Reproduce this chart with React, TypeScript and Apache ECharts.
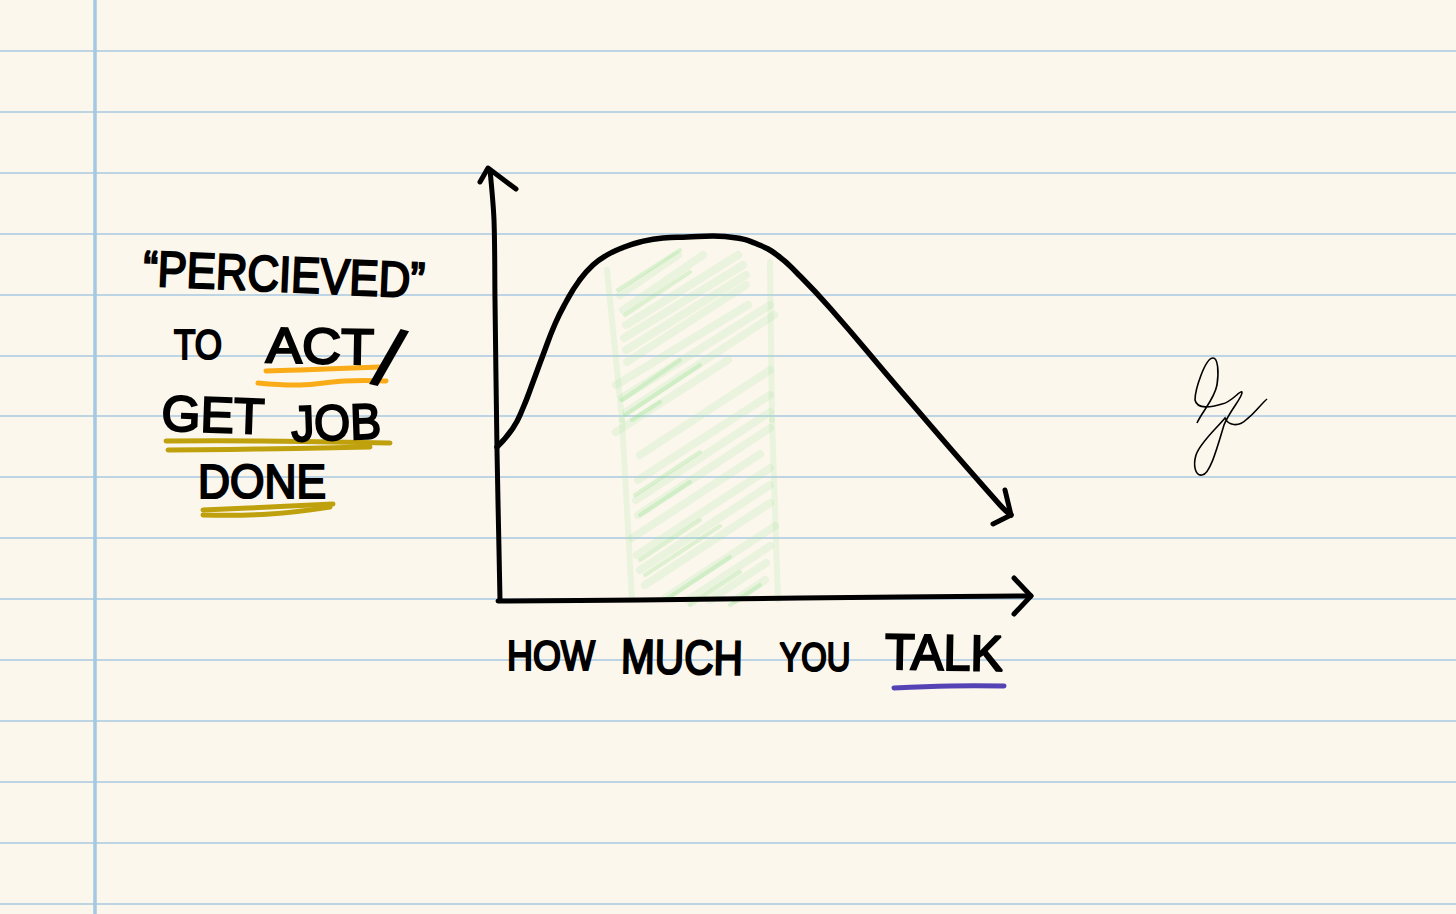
import React, { useEffect, useRef } from "react";
import * as echarts from "echarts";

// Units of both axes: one unit per pixel of the drawing, measured from the origin of the sketch.
const curve = [
  [-1, 153], [15, 172], [25, 192], [35, 218], [45, 245], [57, 276], [68, 298], [81, 319], [95, 335], [109, 345],
  [124, 352], [142, 358], [165, 362], [189, 363], [215, 364], [239, 362], [259, 356], [279, 345],
  [299, 327], [332, 292], [402, 210], [502, 95], [513, 85],
];
const curveArrowHead = [[507, 110], [513, 85], [495, 76]];
const yAxisStroke = [[2, 0], [1, 50], [-1, 150], [-3, 300], [-4, 380], [-8, 430]];
const yAxisHead = [[-18, 418], [-10, 432], [18, 411]];
const xAxisStroke = [[0, -1], [142, 0], [302, 2], [533, 4]];
const xAxisHead = [[516, 22], [533, 4], [516, -14]];

const hatchLight = [
  [122, 305, 180, 345], [125, 290, 205, 345], [128, 275, 240, 345], [126, 262, 245, 335],
  [128, 250, 248, 325], [129, 238, 248, 315], [118, 215, 250, 295], [124, 202, 272, 295],
  [128, 188, 276, 285], [118, 168, 230, 240], [142, 145, 272, 230], [140, 120, 272, 205],
  [138, 100, 272, 188], [140, 85, 272, 172], [134, 62, 262, 146], [139, 45, 272, 132],
  [142, 30, 272, 115], [147, 15, 272, 97], [167, 2, 277, 74], [190, 0, 272, 54],
  [212, 0, 268, 37], [237, 0, 267, 20],
];
const hatchDense = [
  [124, 200, 182, 240], [127, 185, 202, 235], [134, 180, 162, 198], [137, 105, 202, 148],
  [142, 85, 192, 118], [142, 40, 202, 80], [147, 25, 222, 74], [167, 0, 232, 43],
  [192, -5, 242, 28], [232, -5, 262, 15], [120, 310, 182, 350], [127, 285, 192, 328],
];
const bandEdges = [
  [109, 330, 124, 180], [124, 180, 134, 0], [272, 338, 274, 180], [274, 180, 280, 0],
];

const ruleRows = [51, 112, 173, 234, 295, 356, 416, 477, 538, 599, 660, 721, 782, 843, 904];

const words: [string, number, number, number, number, number][] = [
  // text, centre x, centre y, target width, font size, rotation in degrees (clockwise)
  ["“PERCIEVED”", 284, 274, 282, 50, 2.5],
  ["TO", 198, 344, 48, 42, 0],
  ["ACT", 320, 346, 108, 50, 1],
  ["/", 389, 358, 23, 80, 14],
  ["GET", 213, 415, 103, 50, 2],
  ["JOB", 336, 422, 90, 50, -2],
  ["DONE", 262, 481, 128, 48, 0],
  ["HOW", 551, 656, 88, 42, 0],
  ["MUCH", 682, 657, 122, 48, 1],
  ["YOU", 815, 657, 71, 40, 0],
  ["TALK", 944, 652, 118, 50, 1],
];

const underlines: [string, number, number[][]][] = [
  ["#f9ab18", 5, [[266, 371], [300, 370], [380, 367]]],
  ["#f9ab18", 5, [[258, 383], [300, 385], [345, 381], [386, 381]]],
  ["#bfa10d", 5, [[166, 441], [260, 441], [390, 443]]],
  ["#bfa10d", 5, [[168, 450], [260, 449], [370, 447]]],
  ["#bfa10d", 5, [[203, 510], [270, 507], [333, 504]]],
  ["#bfa10d", 5, [[203, 515], [270, 514], [330, 507]]],
  ["#5443b5", 5, [[894, 688], [950, 686], [1004, 686]]],
];

const signature =
  "M1197 423 C1203 410 1214 400 1217 385 C1219 372 1218 358 1213 358 C1205 358 1195 390 1195 400 C1197 410 1212 407 1222 404 C1232 402 1240 390 1242 392 C1243 397 1230 410 1224 425 C1218 445 1210 475 1202 475 C1195 476 1193 465 1196 455 C1200 443 1215 430 1225 418 C1228 425 1238 428 1247 419 C1255 413 1262 403 1267 399";

const FONT = '"Liberation Sans"';

function measure(text: string, size: number) {
  const ctx = document.createElement("canvas").getContext("2d")!;
  ctx.font = `${size}px ${FONT}`;
  return ctx.measureText(text).width;
}

function inkLine(data: number[][], width: number, smooth: number | boolean = false) {
  return {
    type: "line",
    data,
    smooth,
    showSymbol: false,
    symbol: "none",
    clip: false,
    silent: true,
    z: 5,
    lineStyle: { color: "#000", width, cap: "round", join: "round" },
  };
}

function hatchSeries(data: number[][], color: string, width: number) {
  return {
    type: "custom",
    coordinateSystem: "cartesian2d",
    clip: false,
    silent: true,
    z: 3,
    data,
    encode: { x: [0, 2], y: [1, 3] },
    renderItem: (_: unknown, api: any) => {
      const a = api.coord([api.value(0), api.value(1)]);
      const b = api.coord([api.value(2), api.value(3)]);
      return {
        type: "line",
        shape: { x1: a[0], y1: a[1], x2: b[0], y2: b[1] },
        style: { stroke: color, lineWidth: width, fill: "none", lineCap: "round" },
      };
    },
  };
}

export default function App() {
  const ref = useRef<HTMLDivElement>(null);
  useEffect(() => {
    document.body.style.margin = "0";
    echarts.graphic.registerShape("signature", echarts.graphic.extendPath(signature, {}));
    const chart = echarts.init(ref.current!, null, { renderer: "svg" });
    chart.setOption({
      animation: false,
      backgroundColor: "#fcf7ec",
      grid: { left: 448, top: 150, width: 600, height: 500 },
      xAxis: { type: "value", min: -50, max: 550, show: false },
      yAxis: { type: "value", min: -50, max: 450, show: false },
      series: [
        hatchSeries(hatchLight, "rgba(165,232,165,0.20)", 8),
        hatchSeries(bandEdges, "rgba(165,232,165,0.20)", 6),
        hatchSeries(hatchDense, "rgba(130,225,130,0.26)", 4),
        inkLine(yAxisStroke, 5, 0.3),
        inkLine(yAxisHead, 5),
        inkLine(xAxisStroke, 5, 0.3),
        inkLine(xAxisHead, 5),
        inkLine(curve, 5.5, 0.5),
        inkLine(curveArrowHead, 5),
      ],
      graphic: [
        ...ruleRows.map((y) => ({
          type: "line",
          silent: true,
          z: 0,
          shape: { x1: 0, y1: y, x2: 1456, y2: y },
          style: { stroke: "#a9c9e2", lineWidth: 1.5 },
        })),
        {
          type: "line",
          silent: true,
          z: 0,
          shape: { x1: 95, y1: 0, x2: 95, y2: 914 },
          style: { stroke: "#a6c9e3", lineWidth: 3.5 },
        },
        ...underlines.map(([color, width, points]) => ({
          type: "polyline",
          silent: true,
          z: 4,
          shape: { points, smooth: 0.4 },
          style: { stroke: color, lineWidth: width, fill: "none", lineCap: "round" },
        })),
        ...words.map(([text, x, y, target, size, deg]) => ({
          type: "text",
          silent: true,
          z: 6,
          x,
          y,
          rotation: (-deg * Math.PI) / 180,
          scaleX: target / measure(text, size),
          style: {
            text,
            fontFamily: FONT,
            fontSize: size,
            align: "center",
            verticalAlign: "middle",
            fill: "#000",
            stroke: "#000",
            lineWidth: 2.2,
            lineJoin: "round",
          },
        })),
        {
          type: "signature",
          silent: true,
          z: 6,
          x: 0,
          y: 0,
          scaleX: 1,
          scaleY: 1,
          style: { fill: "none", stroke: "#000", lineWidth: 1.6 },
        },
      ],
    });
    return () => chart.dispose();
  }, []);
  return <div ref={ref} style={{ width: 1456, height: 914 }} />;
}
